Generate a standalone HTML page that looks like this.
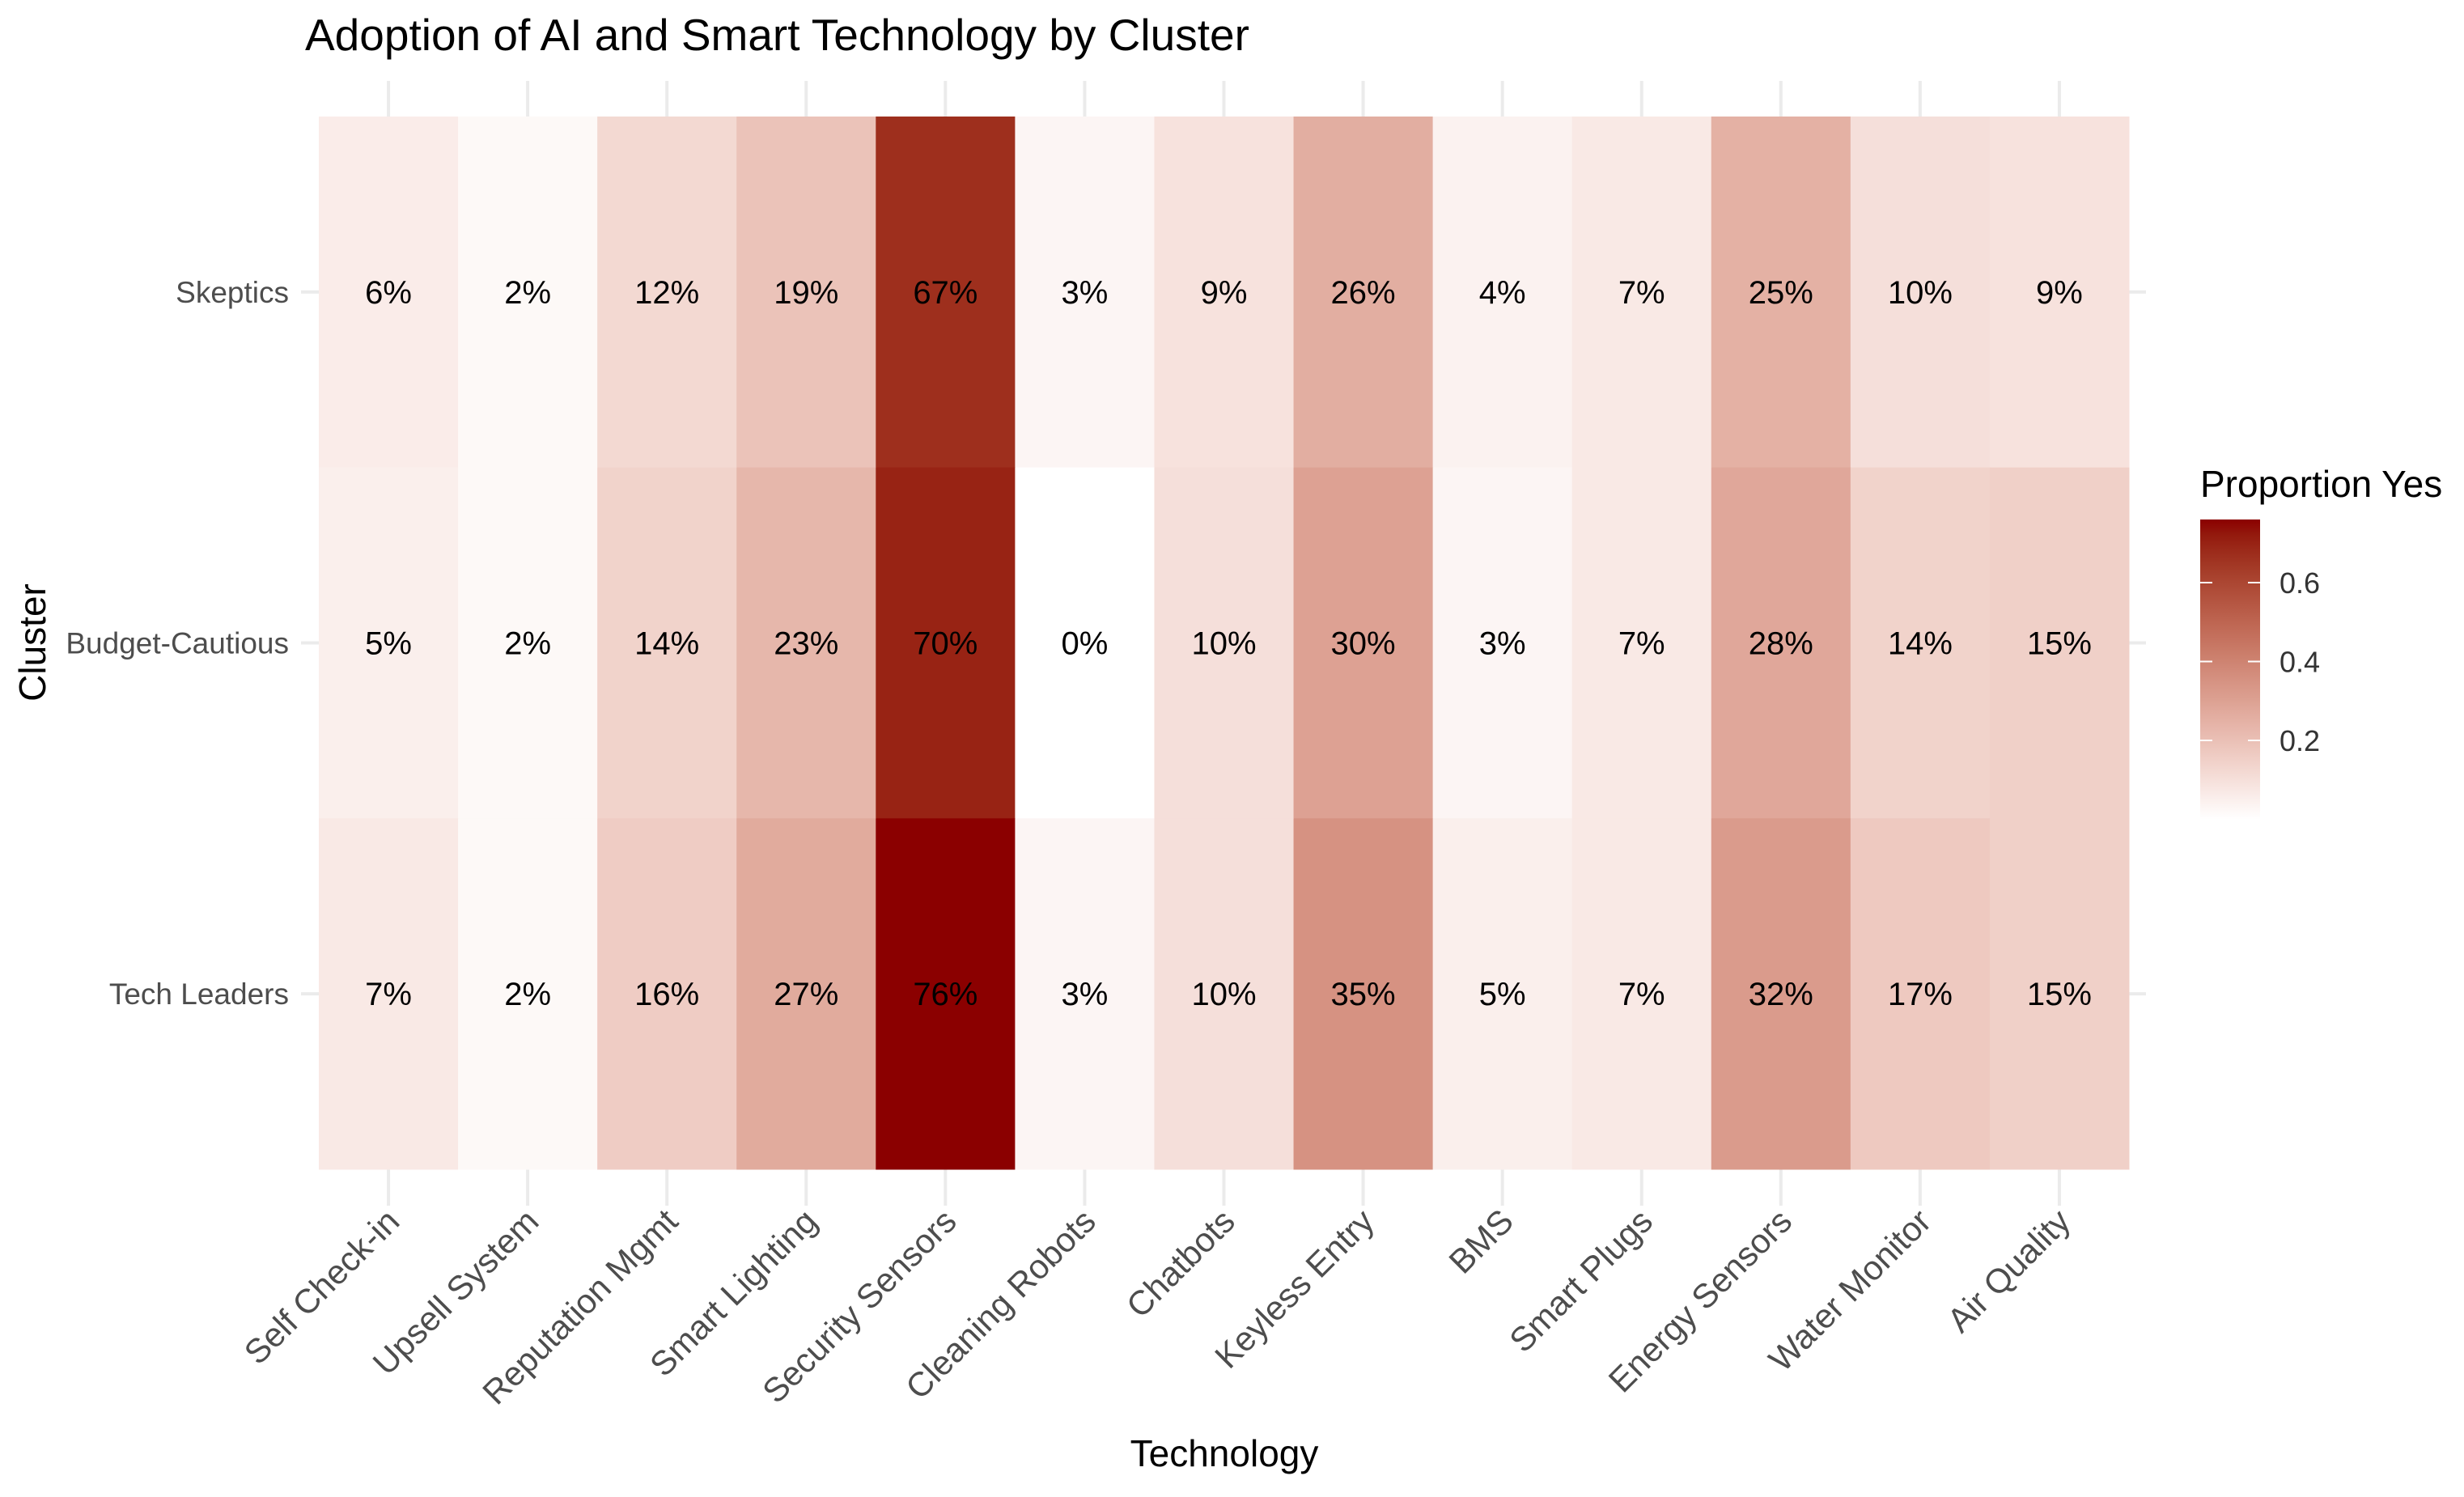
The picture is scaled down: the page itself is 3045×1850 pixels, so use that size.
<!DOCTYPE html>
<html><head><meta charset="utf-8"><style>
html,body{margin:0;padding:0;background:#fff;}
svg{display:block;font-family:"Liberation Sans",Arial,sans-serif;}
</style></head><body>
<svg id="chart" width="3045" height="1850" viewBox="0 0 3045 1850">
<defs>
<linearGradient id="lg" x1="0" y1="1" x2="0" y2="0"></linearGradient>
</defs>
<text x="377" y="62" font-size="55" fill="#000">Adoption of AI and Smart Technology by Cluster</text>
<g id="grid"></g>
<g id="cells"></g>
<g id="xlabels"></g>
<g id="ylabels"></g>
<text x="1513" y="1812" font-size="46" text-anchor="middle" fill="#000">Technology</text>
<text transform="translate(56,794) rotate(-90)" font-size="46" text-anchor="middle" fill="#000">Cluster</text>
<g id="legend">
<text x="2719" y="614" font-size="46" fill="#000">Proportion Yes</text>
</g>
</svg>
<script>
const categories = ["Self Check-in","Upsell System","Reputation Mgmt","Smart Lighting","Security Sensors","Cleaning Robots","Chatbots","Keyless Entry","BMS","Smart Plugs","Energy Sensors","Water Monitor","Air Quality"];
const clusters = ["Skeptics","Budget-Cautious","Tech Leaders"];
const skeptics = [0.06,0.02,0.12,0.19,0.67,0.03,0.09,0.26,0.04,0.07,0.25,0.10,0.09];
const budgetCautious = [0.05,0.02,0.14,0.23,0.70,0.00,0.10,0.30,0.03,0.07,0.28,0.14,0.15];
const techLeaders = [0.07,0.02,0.16,0.27,0.76,0.03,0.10,0.35,0.05,0.07,0.32,0.17,0.15];
const legendTicks = [0.2,0.4,0.6];
const colorMax = 0.76;

const NS="http://www.w3.org/2000/svg";
const L=394,R=2631,T=144,B=1445;
const cw=(R-L)/categories.length, rh=(B-T)/clusters.length;
const xc=i=>L+cw*(i+0.5), yc=j=>T+rh*(j+0.5);
// Lab interpolation white -> #8B0000
function srgb2lin(c){c/=255;return c<=0.04045?c/12.92:Math.pow((c+0.055)/1.055,2.4);}
function lin2srgb(c){c=c<=0.0031308?12.92*c:1.055*Math.pow(c,1/2.4)-0.055;return Math.round(Math.max(0,Math.min(1,c))*255);}
function rgb2lab(r,g,b){r=srgb2lin(r);g=srgb2lin(g);b=srgb2lin(b);
 let X=(0.4124*r+0.3576*g+0.1805*b)/0.95047,Y=0.2126*r+0.7152*g+0.0722*b,Z=(0.0193*r+0.1192*g+0.9505*b)/1.08883;
 const f=t=>t>0.008856?Math.cbrt(t):7.787*t+16/116;
 return [116*f(Y)-16,500*(f(X)-f(Y)),200*(f(Y)-f(Z))];}
function lab2rgb(Lv,a,bb){const fy=(Lv+16)/116,fx=fy+a/500,fz=fy-bb/200;
 const fi=t=>t*t*t>0.008856?t*t*t:(t-16/116)/7.787;
 const X=fi(fx)*0.95047,Y=fi(fy),Z=fi(fz)*1.08883;
 const r=3.2406*X-1.5372*Y-0.4986*Z,g=-0.9689*X+1.8758*Y+0.0415*Z,b=0.0557*X-0.2040*Y+1.0570*Z;
 return [lin2srgb(r),lin2srgb(g),lin2srgb(b)];}
const labLo=rgb2lab(255,255,255),labHi=rgb2lab(139,0,0);
function col(v){const t=Math.max(0,Math.min(1,v/colorMax));
 const c=lab2rgb(labLo[0]+t*(labHi[0]-labLo[0]),labLo[1]+t*(labHi[1]-labLo[1]),labLo[2]+t*(labHi[2]-labLo[2]));
 return `rgb(${c[0]},${c[1]},${c[2]})`;}
function mk(tag,attrs,parent){const e=document.createElementNS(NS,tag);for(const k in attrs)e.setAttribute(k,attrs[k]);parent.appendChild(e);return e;}
const lgd=document.getElementById('lg');
for(let k=0;k<=20;k++){mk('stop',{offset:k/20,'stop-color':col(colorMax*k/20)},lgd);}
const grid=document.getElementById('grid'),cells=document.getElementById('cells'),xl=document.getElementById('xlabels'),yl=document.getElementById('ylabels');
categories.forEach((c,i)=>{
 const g=mk('line',{x1:xc(i),x2:xc(i),y1:100,y2:1490,stroke:'#ebebeb','stroke-width':4},grid);
 
 
 const t=mk('text',{transform:`translate(${xc(i)+16},${1512}) rotate(-45)`,'font-size':42,'text-anchor':'end',fill:'#4d4d4d'},xl);
 t.textContent=c;
 
 
});
const series=[skeptics,budgetCautious,techLeaders];
clusters.forEach((c,j)=>{
 const g=mk('line',{x1:372,x2:2652,y1:yc(j),y2:yc(j),stroke:'#ebebeb','stroke-width':4},grid);
 
 
 const t=mk('text',{x:357,y:yc(j)+13,'font-size':37,'text-anchor':'end',fill:'#4d4d4d'},yl);
 t.textContent=c;
 
 
 series[j].forEach((v,i)=>{
  const r=mk('rect',{x:L+cw*i,y:T+rh*j,width:cw+0.5,height:rh+0.5,fill:col(v)},cells);
  
  
  const tx=mk('text',{x:xc(i),y:yc(j)+14,'font-size':40,'text-anchor':'middle',fill:'#000'},cells);
  tx.textContent=Math.round(v*100)+'%';
  
  
 });
});
const lg=document.getElementById('legend');
const ly=v=>915-(v-0.2)*487.5;
const bar=mk('rect',{x:2719,y:ly(colorMax),width:74,height:ly(0)-ly(colorMax),fill:'url(#lg)'},lg);


legendTicks.forEach(v=>{
 mk('line',{x1:2719,x2:2734,y1:ly(v),y2:ly(v),stroke:'#fff','stroke-width':2},lg);
 mk('line',{x1:2778,x2:2793,y1:ly(v),y2:ly(v),stroke:'#fff','stroke-width':2},lg);
 const t=mk('text',{x:2817,y:ly(v)+13,'font-size':36,fill:'#333'},lg);
 t.textContent=v.toFixed(1);
 
 
});
</script>
</body></html>
